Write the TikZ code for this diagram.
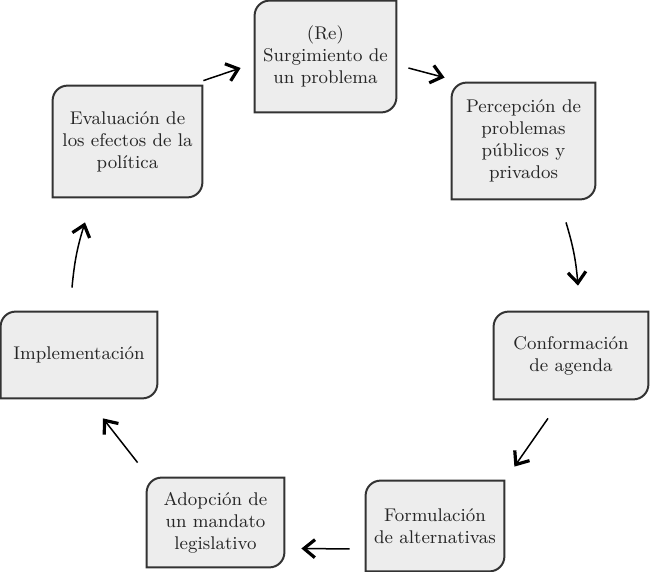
\documentclass[tikz,border=0pt]{standalone}
\usepackage{tikz}
\usetikzlibrary{calc}
\usetikzlibrary{arrows.meta}
\usetikzlibrary{backgrounds}

\tikzset{
  caja/.style={align=center, inner sep=0pt, text=black!85, font=\fontsize{9.2}{11}\selectfont},
  borde/.style={draw=black!80, line width=1pt, fill=black!7},
  flecha/.style={line width=0.75pt, -{Straight Barb[length=5.5pt,width=9pt,line width=1.6pt]}}
}

\begin{document}
\begin{tikzpicture}[x=0.5pt, y=-0.5pt]
  \useasboundingbox (0,0) rectangle (650,572);
  \node [caja, minimum width=70.5pt, minimum height=55.5pt] (re) at (325.5,56.5) {(Re)\\Surgimiento de\\un problema};
  \node [caja, minimum width=71.5pt, minimum height=58pt] (perc) at (523.5,141) {Percepci\'on de\\problemas\\p\'ublicos y\\privados};
  \node [caja, minimum width=77pt, minimum height=43.5pt] (conf) at (571,355.5) {Conformaci\'on\\de agenda};
  \node [caja, minimum width=69pt, minimum height=45pt] (form) at (435,526) {Formulaci\'on\\de alternativas};
  \node [caja, minimum width=68.5pt, minimum height=44.5pt] (adop) at (215.5,522.5) {Adopci\'on de\\un mandato\\legislativo};
  \node [caja, minimum width=78pt, minimum height=43pt] (impl) at (79,355) {Implementaci\'on};
  \node [caja, minimum width=74.5pt, minimum height=55.5pt] (eval) at (127.5,141.5) {Evaluaci\'on de\\los efectos de la\\pol\'itica};
  \begin{scope}[on background layer]
    \foreach \n in {re,perc,conf,form,adop,impl,eval}
      \draw [borde] (\n.north east) -- ([xshift=7.5pt]\n.north west) arc [start angle=90, end angle=180, radius=7.5pt]
        -- (\n.south west) -- ([xshift=-7.5pt]\n.south east) arc [start angle=270, end angle=360, radius=7.5pt] -- cycle;
  \end{scope}
  \draw [flecha] ($(re.east)+(12,11.5)$) -- ($(perc.north west)+(-7,-5)$);
  \draw [flecha] ($(perc.south)+(42.5,23)$) to [bend left=6] ($(conf.north)+(7,-26)$);
  \draw [flecha] ($(conf.south)+(-23,19)$) -- ($(form.north east)+(10,-14)$);
  \draw [flecha] ($(form.west)+(-16,23)$) -- ($(adop.east)+(17,26)$);
  \draw [flecha] ($(adop.north west)+(-9,-15)$) -- ($(impl.south)+(24,20)$);
  \draw [flecha] ($(impl.north)+(-7,-24)$) to [bend left=6] ($(eval.south)+(-42.5,25)$);
  \draw [flecha] ($(eval.north east)+(1,-5)$) -- ($(re.west)+(-14,11.5)$);
\end{tikzpicture}
\end{document}
